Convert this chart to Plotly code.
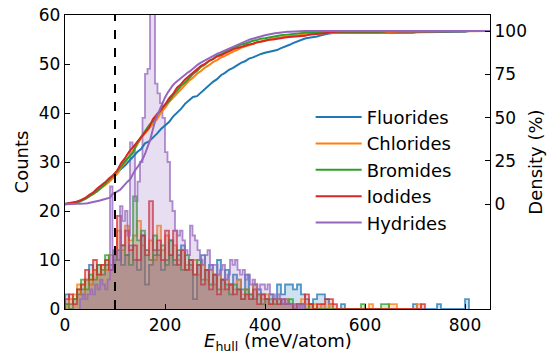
import numpy as np
import plotly.graph_objects as go

# ---------------- data ----------------
names = ["Fluorides", "Chlorides", "Bromides", "Iodides", "Hydrides"]
colors = ["#1f77b4", "#ff7f0e", "#2ca02c", "#d62728", "#9467bd"]

halide_bin_start = 0.0
halide_bin_width = 8.0
hydride_bin_start = 30.0
hydride_bin_width = 5.0

fluorides = [3, 1, 2, 3, 4, 6, 9, 8, 9, 7, 9, 8, 10, 12, 9, 11, 13, 10, 8, 15,
             5, 9, 11, 12, 8, 10, 14, 9, 11, 13, 8, 10, 2, 9, 11, 8, 9, 7, 10, 6,
             8, 5, 7, 6, 4, 7, 3, 5, 4, 3, 2, 3, 2, 5, 3, 5, 5, 4, 5, 3,
             2, 1, 2, 3, 3, 2, 1, 0, 0, 1, 0, 0, 0, 0, 0, 0, 0, 0, 0, 0,
             0, 0, 0, 0, 0, 0, 0, 1, 0, 0, 0, 0, 0, 1, 0, 0, 0, 0, 0, 0, 2]
chlorides = [1, 2, 3, 5, 3, 6, 5, 8, 7, 9, 8, 11, 10, 16, 12, 17, 14, 15, 18, 13,
             12, 14, 10, 17, 12, 15, 11, 13, 10, 12, 9, 8, 10, 7, 9, 6, 8, 5, 7, 4,
             6, 5, 4, 6, 3, 4, 2, 5, 3, 2, 3, 1, 2, 2, 1, 2, 1, 1, 1, 2,
             1, 0, 1, 0, 1, 0, 1, 0, 0, 0, 0, 0, 0, 0, 0, 0, 1, 0, 0, 0,
             0, 1, 1, 0, 0, 0, 0, 0, 1]
bromides = [1, 0, 2, 4, 6, 4, 7, 6, 9, 8, 11, 9, 12, 10, 13, 11, 9, 23, 14, 16,
            12, 10, 15, 11, 13, 9, 14, 10, 12, 8, 11, 9, 7, 10, 6, 8, 5, 7, 4, 6,
            5, 3, 5, 4, 2, 4, 3, 2, 3, 1, 2, 2, 1, 2, 1, 1, 2, 0, 1, 1,
            0, 1, 0, 0, 0, 0, 0, 0, 0, 0, 0, 0, 0, 0, 1, 0, 0, 0, 0, 1, 1]
iodides = [2, 3, 1, 4, 5, 8, 6, 10, 7, 9, 10, 8, 11, 19, 13, 16, 12, 13, 10, 15,
           11, 22, 12, 14, 10, 16, 11, 16, 9, 12, 8, 10, 7, 9, 5, 8, 4, 7, 3, 6,
           4, 5, 3, 4, 2, 3, 2, 4, 1, 3, 2, 1, 2, 1, 2, 1, 1, 0, 1, 1,
           3, 1, 0, 1, 1, 2, 2, 1, 0, 0, 0, 0, 0, 0, 0, 0, 0, 0, 0, 0,
           0, 0, 0, 0, 0, 0, 0, 0, 0, 1]
hydrides = [2, 3, 2, 3, 4, 3, 5, 4, 6, 5, 4, 6, 25, 8, 12, 10, 21, 18, 20, 15,
            34, 33, 22, 26, 30, 39, 48, 49, 70, 68, 46, 44, 42, 39, 32, 30, 22, 20, 16, 15,
            16, 14, 12, 11, 17, 15, 14, 12, 10, 9, 11, 12, 8, 9, 9, 7, 8, 9, 6, 7,
            10, 9, 10, 8, 7, 8, 6, 7, 5, 6, 5, 4, 5, 5, 4, 5, 3, 3, 2, 3,
            2, 1, 2, 1, 1, 1, 0, 1, 0, 1]

series = [fluorides, chlorides, bromides, iodides, hydrides]
bin_starts = [halide_bin_start] * 4 + [hydride_bin_start]
bin_widths = [halide_bin_width] * 4 + [hydride_bin_width]

threshold = 100          # meV/atom, dashed line
x_max = 850
count_max = 60
density_range = [-60.6, 109.3]   # right axis (%), aligned with left counts axis
density_ticks = [0, 25, 50, 75, 100]
count_ticks = [0, 10, 20, 30, 40, 50, 60]
x_ticks = [0, 200, 400, 600, 800]
x_title = "<i>E</i><sub>hull</sub> (meV/atom)"


def rgba(hexc, a):
    h = hexc.lstrip("#")
    return f"rgba({int(h[0:2],16)},{int(h[2:4],16)},{int(h[4:6],16)},{a})"


fig = go.Figure()

# histograms (step filled)
for name, col, counts, s, w in zip(names, colors, series, bin_starts, bin_widths):
    counts = np.asarray(counts, float)
    edges = s + w * np.arange(len(counts) + 1)
    xs = np.concatenate([[edges[0]], edges[:-1], [edges[-1], edges[-1]]])
    ys = np.concatenate([[0], counts, [counts[-1], 0]])
    fig.add_trace(go.Scatter(
        x=xs, y=ys, mode="lines", line=dict(color=rgba(col, 0.75), width=1.8, shape="hv"),
        fill="tozeroy", fillcolor=rgba(col, 0.22), showlegend=False, hoverinfo="skip",
        yaxis="y"))

# cumulative densities
for name, col, counts, s, w in zip(names, colors, series, bin_starts, bin_widths):
    counts = np.asarray(counts, float)
    edges = s + w * np.arange(len(counts) + 1)
    cdf = np.concatenate([[0], np.cumsum(counts) / counts.sum() * 100])
    xs = np.concatenate([[0], edges, [x_max]])
    ys = np.concatenate([[0], cdf, [100]])
    fig.add_trace(go.Scatter(
        x=xs, y=ys, mode="lines", name=name,
        line=dict(color=col, width=2), yaxis="y2"))

fig.add_shape(type="line", xref="x", yref="paper", x0=threshold, x1=threshold, y0=0, y1=1,
              line=dict(color="black", width=2, dash="dash"))

tick_font = dict(family="DejaVu Sans", size=17, color="black")
label_font = dict(family="DejaVu Sans", size=18, color="black")

fig.add_annotation(text=x_title, xref="paper", yref="paper", x=0.5, y=0,
                   xanchor="center", yanchor="top", yshift=-19, showarrow=False,
                   font=label_font)

fig.update_layout(
    width=557, height=354,
    margin=dict(l=65, r=67, t=15, b=45),
    paper_bgcolor="white", plot_bgcolor="white",
    font=tick_font,
    showlegend=True,
    legend=dict(x=0.578, y=0.715, xanchor="left", yanchor="top", bgcolor="rgba(0,0,0,0)",
                font=dict(family="DejaVu Sans", size=18, color="black"),
                tracegroupgap=0, itemwidth=46),
    xaxis=dict(range=[0, x_max], tickvals=x_ticks, ticks="inside", ticklen=5,
               tickcolor="black", showline=True, linecolor="black", linewidth=1.3,
               mirror=True, showgrid=False, zeroline=False, automargin=False,
               tickfont=tick_font),
    yaxis=dict(range=[0, count_max], tickvals=count_ticks, ticks="inside", ticklen=5,
               tickcolor="black", showline=True, linecolor="black", linewidth=1.3,
               showgrid=False, zeroline=False, automargin=False, tickfont=tick_font,
               title=dict(text="Counts", standoff=5, font=label_font)),
    yaxis2=dict(range=density_range, tickvals=density_ticks, ticks="inside", ticklen=5,
                tickcolor="black", showline=True, linecolor="black", linewidth=1.3,
                overlaying="y", side="right", showgrid=False, zeroline=False,
                automargin=False, tickfont=tick_font,
                title=dict(text="Density (%)", standoff=3, font=label_font)),
)

fig.write_html("out.html")
